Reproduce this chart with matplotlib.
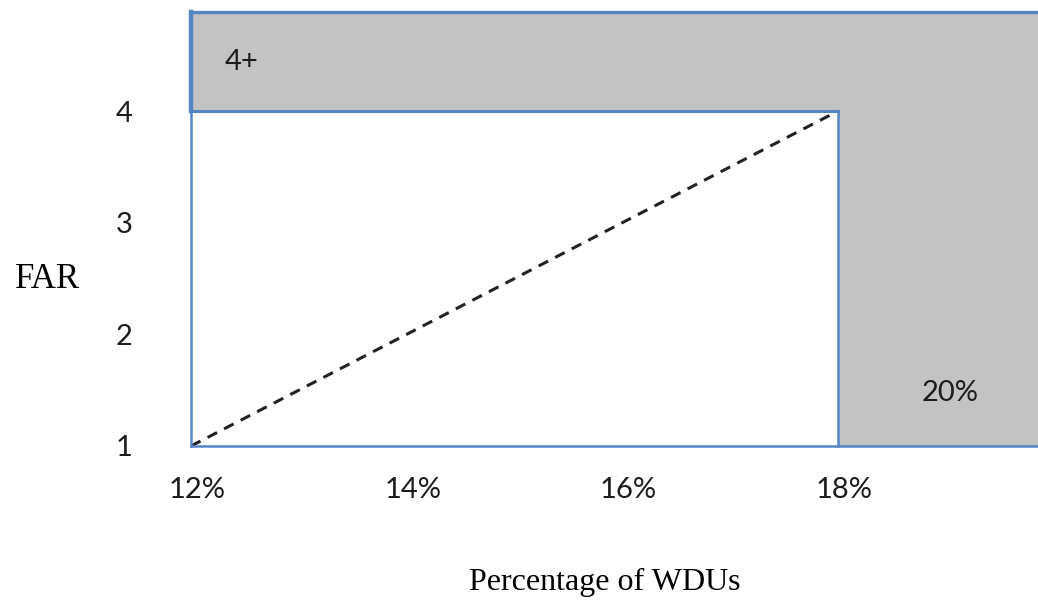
import matplotlib
matplotlib.use("Agg")
import matplotlib.pyplot as plt
from matplotlib.patches import Rectangle
from matplotlib.transforms import ScaledTranslation

# ---- data ----
x_ticks = [12, 14, 16, 18]
x_tick_labels = ["12%", "14%", "16%", "18%"]
y_ticks = [1, 2, 3, 4]
y_tick_labels = ["1", "2", "3", "4"]
far_threshold = 4        # FAR above which the top band applies
pct_threshold = 18       # percentage above which the right band applies
x_min, x_max = 12, 19.855
y_min, y_max = 1, 4.887
diag_x = [12, 18]
diag_y = [1, 4]
band_top_label = "4+"
band_right_label = "20%"
x_label = "Percentage of WDUs"
y_label = "FAR"

W, H = 1038, 601
fig = plt.figure(figsize=(W / 100, H / 100), dpi=100)
ax = fig.add_axes([191 / W, (H - 446) / H, (W - 191) / W, (446 - 12) / H])
ax.set_xlim(x_min, x_max)
ax.set_ylim(y_min, y_max)
for s in ax.spines.values():
    s.set_visible(False)

gray = "#c3c3c3"
blue = "#5585c5"
txt = "#1c1c1c"

# gray bands
ax.add_patch(Rectangle((x_min, far_threshold), x_max - x_min, y_max - far_threshold,
                       facecolor=gray, edgecolor="none", zorder=1))
ax.add_patch(Rectangle((pct_threshold, y_min), x_max - pct_threshold, far_threshold - y_min,
                       facecolor=gray, edgecolor="none", zorder=1))

# blue borders
ax.plot([x_min, x_max], [y_max, y_max], color=blue, lw=2.4, clip_on=False, zorder=3)
ax.plot([x_min, x_min], [far_threshold, y_max], color=blue, lw=3.2, clip_on=False, zorder=3)
ax.plot([x_min, x_min], [y_min, far_threshold], color=blue, lw=1.8, clip_on=False, zorder=3)
ax.plot([x_min, pct_threshold], [far_threshold, far_threshold], color=blue, lw=2.2, clip_on=False, zorder=3)
ax.plot([pct_threshold, pct_threshold], [y_min, far_threshold], color=blue, lw=1.8, clip_on=False, zorder=3)
ax.plot([x_min, x_max], [y_min, y_min], color=blue, lw=1.8, clip_on=False, zorder=3)

# dashed diagonal
ax.plot(diag_x, diag_y, color="#222222", lw=2.2, linestyle=(0, (3.5, 2.6)), zorder=2)

# band labels
ax.text(12.47, 4.44, band_top_label, fontsize=21, family="Lato", ha="center", va="center", color=txt)
ax.text(19.04, 1.475, band_right_label, fontsize=21, family="Lato", ha="center", va="center", color=txt)

# ticks
ax.set_xticks(x_ticks)
ax.set_xticklabels(x_tick_labels, family="Lato", fontsize=21, color=txt)
ax.set_yticks(y_ticks)
ax.set_yticklabels(y_tick_labels, family="Lato", fontsize=21, color=txt)
ax.tick_params(axis="x", length=0, pad=22)
ax.tick_params(axis="y", length=0, pad=42)
shift = ScaledTranslation(6 / 100, 0, fig.dpi_scale_trans)
for lab in ax.get_xticklabels():
    lab.set_transform(lab.get_transform() + shift)

# axis titles
fig.text(48 / W, 1 - 280 / H, y_label, family="Liberation Serif", fontsize=25,
         ha="center", va="center")
fig.text(605 / W, 1 - 582 / H, x_label, family="Liberation Serif", fontsize=23,
         ha="center", va="center")

fig.savefig("out.png", dpi=100)
